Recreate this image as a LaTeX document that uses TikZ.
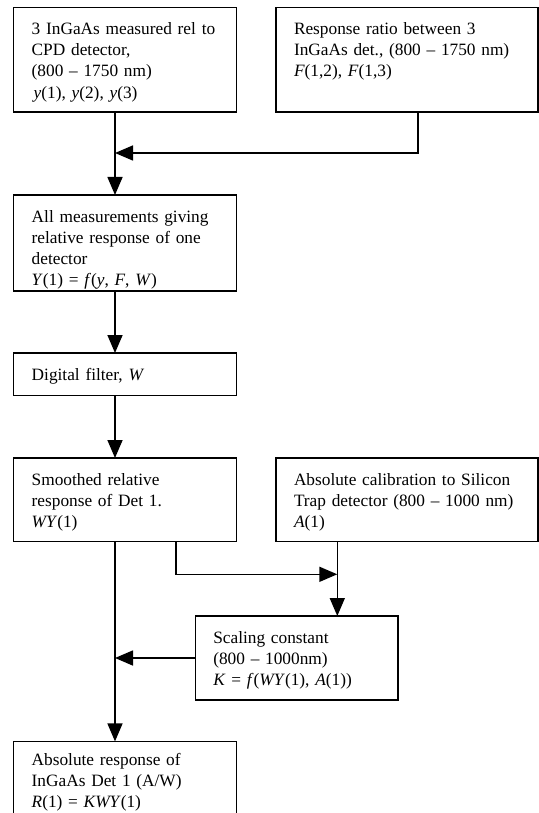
\documentclass[tikz,border=0pt]{standalone}
\usepackage{fontspec}
\setmainfont{Liberation Serif}
\usetikzlibrary{calc,arrows.meta}

\tikzset{
  box/.style n args={3}{%
    draw, line width=1.4pt, anchor=north west, align=left,
    inner xsep=18pt, inner ysep=0pt, outer sep=0pt,
    minimum width=#1, text width=#2, text height=27pt, text depth=#3,
    font=\fontsize{17.3}{21.2}\selectfont},
  link/.style={draw, line width=1.6pt, ->}
}

\begin{document}
\begin{tikzpicture}[x=1pt, y=-1pt, >={Triangle[length=18pt,width=15pt]}]
    \useasboundingbox (0,0) rectangle (538,813);

    \node[box={223pt}{187pt}{77.5pt}] (meas) at (13.7,7.5)
      {3 InGaAs measured rel to\\CPD detector,\\(800 -- 1750 nm)\\
       \hspace{2pt}\textit{y}(1), \textit{y}(2), \textit{y}(3)};
    \node[box={262pt}{226pt}{77.5pt}] (ratio) at (276,7.5)
      {Response ratio between 3\\InGaAs det., (800 -- 1750 nm)\\
       \textit{F}(1,2), \textit{F}(1,3)};
    \node[box={223pt}{187pt}{69pt}] (merged) at (13.7,195)
      {All measurements giving\\relative response of one\\detector\\
       \textit{Y}(1) = \textit{f}(\textit{y}, \textit{F}, \textit{W})};
    \node[box={223pt}{187pt}{15.6pt}] (filter) at (13.7,353)
      {Digital filter, \textit{W}};
    \node[box={223pt}{187pt}{56.5pt}] (smooth) at (13.7,458)
      {Smoothed relative\\response of Det 1.\\\textit{WY}(1)};
    \node[box={262pt}{226pt}{56.5pt}] (calib) at (276,458)
      {Absolute calibration to Silicon\\Trap detector (800 -- 1000 nm)\\
       \textit{A}(1)};
    \node[box={202.7pt}{166.7pt}{57pt}] (scale) at (195.3,616)
      {Scaling constant\\(800 -- 1000nm)\\
       \textit{K} = \textit{f}(\textit{WY}(1), \textit{A}(1))};
    \node[box={223pt}{187pt}{75pt}, text height=24pt] (absresp) at (13.7,741.4)
      {Absolute response of\\InGaAs Det 1 (A/W)\\
       \textit{R}(1) = \textit{KWY}(1)};

    % where the lines run
    \coordinate (spine) at (115,0);
    \coordinate (drop)  at (418,0);
    \coordinate (join)  at (115,153);
    \coordinate (tap)   at (175.7,0);
    \coordinate (meet)  at (337.3,574.3);

    \path[link] (meas.south -| spine)   -- (merged.north -| spine);
    \path[link] (ratio.south -| drop)   |- (join);
    \path[link] (merged.south -| spine) -- (filter.north -| spine);
    \path[link] (filter.south -| spine) -- (smooth.north -| spine);
    \path[link] (smooth.south -| spine) -- (absresp.north -| spine);
    \path[link] (smooth.south -| tap)   |- (meet);
    \path[link] (calib.south -| meet)   -- (scale.north -| meet);
    \path[link] (scale.west)            -- (scale.west -| spine);
\end{tikzpicture}
\end{document}
